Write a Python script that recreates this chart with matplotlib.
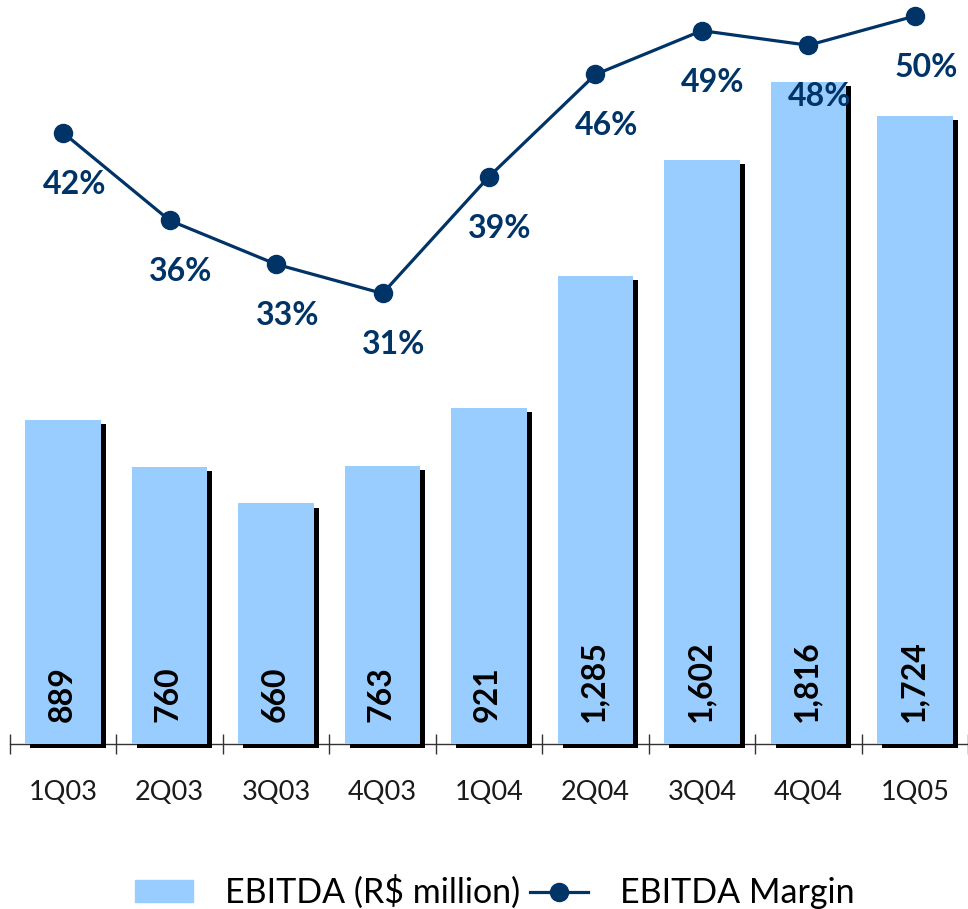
import matplotlib.pyplot as plt
import matplotlib.patheffects as pe
from matplotlib.patches import Patch
import numpy as np

quarters = ['1Q03', '2Q03', '3Q03', '4Q03', '1Q04', '2Q04', '3Q04', '4Q04', '1Q05']
ebitda = [889, 760, 660, 763, 921, 1285, 1602, 1816, 1724]
margin = [42, 36, 33, 31, 39, 46, 49, 48, 50]

bar_color = '#99CCFF'
navy = '#003366'
plt.rcParams['font.family'] = ['Lato', 'DejaVu Sans']

fig = plt.figure(figsize=(9.68, 9.09), dpi=100)
ax = fig.add_axes([10 / 968, 165 / 909, 958 / 968, 744 / 909])
x = np.arange(len(quarters))

bars = ax.bar(x, ebitda, width=0.71, color=bar_color, zorder=3, clip_on=False)
for b in bars:
    b.set_path_effects([pe.SimplePatchShadow(offset=(3.6, -3), shadow_rgbFace='black', alpha=1),
                        pe.Normal()])
for xi, v in zip(x, ebitda):
    ax.annotate(f'{v:,}', (xi, 0), xytext=(-1, 16), textcoords='offset points',
                rotation=90, ha='center', va='bottom', fontsize=23, fontweight='bold',
                color='black', zorder=4)

ax.set_xlim(-0.5, 8.45)
ax.set_ylim(0, 2041)
for s in ['top', 'right', 'left']:
    ax.spines[s].set_visible(False)
ax.spines['bottom'].set_color('#333333')
ax.spines['bottom'].set_linewidth(1)
ax.set_yticks([])
ax.set_xticks(np.arange(-0.5, 9, 1))
ax.set_xticklabels([])
ax.tick_params(axis='x', direction='inout', length=13.7, width=1, color='#333333')
ax.set_xticks(x, minor=True)
ax.set_xticklabels(quarters, minor=True, fontsize=19.5, color='#1a1a1a')
ax.tick_params(axis='x', which='minor', length=0, pad=26)

ax2 = ax.twinx()
ax2.set_ylim(0.137, 51.1)
ax2.axis('off')
line, = ax2.plot(x, margin, color=navy, lw=2.3, marker='o', markersize=13, zorder=5,
                 clip_on=False)
for xi, m in zip(x, margin):
    ax2.annotate(f'{m}%', (xi, m), xytext=(8, -37), textcoords='offset points',
                 ha='center', va='center', fontsize=23, fontweight='bold', color=navy, zorder=6)

fig.legend([Patch(color=bar_color), line], ['EBITDA (R$ million)', 'EBITDA Margin'],
           loc='center', bbox_to_anchor=(495 / 968, 1 - 892 / 909), ncol=2, frameon=False,
           fontsize=24.5, handlelength=1.7, handleheight=0.62, columnspacing=0.3,
           handletextpad=0.94)

fig.savefig('out.png', dpi=100)
